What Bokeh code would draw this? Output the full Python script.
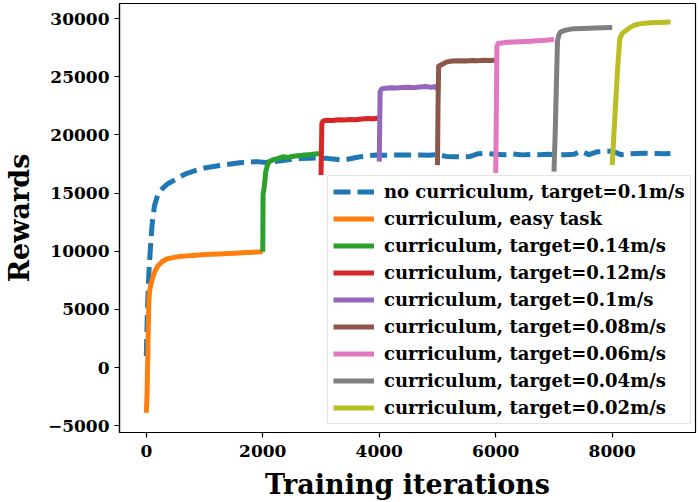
from bokeh.plotting import figure
from bokeh.models import Legend, LegendItem, FixedTicker
from bokeh.embed import file_html
from bokeh.resources import INLINE

# ---------------- data ----------------
iters_none = [0, 20, 45, 70, 100, 140, 200, 280, 370, 460, 580, 700, 850, 1000, 1150, 1300,
              1450, 1600, 1750, 1900, 2050, 2200, 2350, 2500, 2650, 2800, 2950, 3100, 3250,
              3380, 3500, 3650, 3800, 3950, 4100, 4300, 4500, 4700, 4850, 5000, 5150, 5300,
              5450, 5550, 5700, 5850, 6000, 6150, 6300, 6450, 6600, 6750, 6900, 7050, 7200,
              7350, 7460, 7600, 7750, 7900, 8000, 8150, 8300, 8450, 8600, 8750, 8900, 9000]
rewards_none = [1000, 5000, 8200, 10200, 12300, 13900, 14900, 15400, 15800, 16050, 16400, 16700,
                16950, 17150, 17280, 17400, 17500, 17600, 17650, 17700, 17620, 17700, 17800,
                17900, 17960, 18000, 18020, 17980, 17900, 17830, 17950, 18100, 18200, 18270,
                18250, 18280, 18260, 18270, 18250, 18300, 18150, 18120, 18100, 18130, 18380,
                18400, 18330, 18300, 18350, 18280, 18320, 18300, 18330, 18280, 18300, 18330,
                18600, 18300, 18550, 18580, 18600, 18300, 18380, 18400, 18420, 18400, 18380, 18400]

iters_easy = [0, 8, 15, 22, 28, 35, 45, 60, 86, 120, 160, 210, 276, 350, 430, 505, 600, 700,
              800, 965, 1100, 1250, 1400, 1540, 1700, 1850, 2000]
rewards_easy = [-3900, -3000, -2000, 0, 1540, 3500, 5830, 6700, 7260, 7900, 8400, 8800, 9120,
                9330, 9430, 9490, 9560, 9600, 9640, 9690, 9730, 9760, 9800, 9830, 9880, 9920, 9970]

iters_014 = [2000, 2005, 2020, 2035, 2050, 2060, 2080, 2110, 2170, 2250, 2345, 2420, 2500,
             2600, 2700, 2800, 2900, 3000]
rewards_014 = [9950, 14900, 15300, 16000, 16800, 17000, 17400, 17700, 17840, 17950, 18120,
               18050, 18150, 18200, 18260, 18300, 18350, 18410]

iters_012 = [3000, 3008, 3015, 3040, 3100, 3200, 3300, 3400, 3500, 3600, 3700, 3800, 3900, 4000]
rewards_012 = [16550, 19000, 21000, 21200, 21250, 21230, 21300, 21280, 21330, 21300, 21370,
               21400, 21380, 21450]

iters_010 = [4000, 4008, 4015, 4040, 4100, 4200, 4300, 4400, 4500, 4600, 4700, 4800, 4900,
             4950, 5000]
rewards_010 = [17700, 21000, 23700, 23950, 24000, 24050, 24020, 24080, 24100, 24060, 24120,
               24150, 24080, 24150, 23950]

iters_008 = [5000, 5008, 5020, 5060, 5150, 5250, 5400, 5500, 5600, 5700, 5800, 5900, 6000]
rewards_008 = [17400, 22000, 25900, 26000, 26250, 26350, 26380, 26350, 26400, 26380, 26420,
               26400, 26420]

iters_006 = [6000, 6008, 6020, 6040, 6100, 6200, 6300, 6400, 6500, 6600, 6700, 6800, 6900, 7000]
rewards_006 = [16720, 21000, 27600, 27850, 27900, 27950, 27980, 28000, 28030, 28050, 28080,
               28100, 28150, 28190]

iters_004 = [7000, 7020, 7040, 7060, 7085, 7116, 7200, 7345, 7500, 7700, 7850, 8000]
rewards_004 = [16840, 20000, 24000, 28100, 28600, 28850, 29000, 29130, 29150, 29180, 29200, 29220]

iters_002 = [8000, 8045, 8090, 8130, 8170, 8270, 8370, 8490, 8650, 8800, 9000]
rewards_002 = [17400, 21500, 25500, 28270, 28700, 29100, 29420, 29560, 29630, 29660, 29700]

series_labels = [
    "no curriculum, target=0.1m/s",
    "curriculum, easy task",
    "curriculum, target=0.14m/s",
    "curriculum, target=0.12m/s",
    "curriculum, target=0.1m/s",
    "curriculum, target=0.08m/s",
    "curriculum, target=0.06m/s",
    "curriculum, target=0.04m/s",
    "curriculum, target=0.02m/s",
]
series_colors = ["#1f77b4", "#ff7f0e", "#2ca02c", "#d62728", "#9467bd",
                 "#8c564b", "#e377c2", "#7f7f7f", "#bcbd22"]

xtick_values = [0, 2000, 4000, 6000, 8000]
ytick_values = [-5000, 0, 5000, 10000, 15000, 20000, 25000, 30000]
ytick_labels = ["\u22125000", "0", "5000", "10000", "15000", "20000", "25000", "30000"]

x_label = "Training iterations"
y_label = "Rewards"

# ---------------- figure ----------------
FONT = "DejaVu Serif"

p = figure(width=699, height=502, x_range=(-460, 9430), y_range=(-5580, 31290),
           output_backend="svg", toolbar_location=None,
           min_border_left=117, min_border_right=4, min_border_top=3, min_border_bottom=69)

p.grid.visible = False
p.outline_line_color = "black"
p.outline_line_width = 1.2
p.background_fill_color = "white"
p.border_fill_color = "white"

for ax in (p.xaxis[0], p.yaxis[0]):
    ax.axis_line_color = "black"
    ax.axis_line_width = 1.2
    ax.major_tick_out = 5
    ax.major_tick_in = 0
    ax.major_tick_line_width = 1.2
    ax.minor_tick_line_color = None
    ax.major_label_text_font = FONT
    ax.major_label_text_font_style = "bold"
    ax.major_label_text_font_size = "17px"
    ax.major_label_text_color = "black"
    ax.axis_label_text_font = FONT
    ax.axis_label_text_font_style = "bold"
    ax.axis_label_text_font_size = "27px"
    ax.axis_label_text_color = "black"

p.xaxis.ticker = FixedTicker(ticks=xtick_values)
p.yaxis.ticker = FixedTicker(ticks=ytick_values)
p.yaxis.major_label_overrides = {v: l for v, l in zip(ytick_values, ytick_labels)}
p.xaxis.axis_label = x_label
p.yaxis.axis_label = y_label
p.xaxis.major_label_standoff = 7
p.yaxis.major_label_standoff = 5
p.xaxis.axis_label_standoff = 9
p.yaxis.axis_label_standoff = 10

xs = [iters_none, iters_easy, iters_014, iters_012, iters_010, iters_008, iters_006, iters_004, iters_002]
ys = [rewards_none, rewards_easy, rewards_014, rewards_012, rewards_010, rewards_008, rewards_006,
      rewards_004, rewards_002]

items = []
for i, (x, y) in enumerate(zip(xs, ys)):
    if i == 0:
        r = p.line(x, y, line_color=series_colors[i], line_width=5, line_dash="17 7",
                   line_join="round")
    else:
        r = p.line(x, y, line_color=series_colors[i], line_width=5, line_join="round")
    items.append(LegendItem(label=series_labels[i], renderers=[r]))

legend = Legend(items=items, location=(208, 8))
legend.label_text_font = FONT
legend.label_text_font_style = "bold"
legend.label_text_font_size = "18px"
legend.label_text_color = "black"
legend.glyph_width = 41
legend.glyph_height = 21
legend.label_height = 21
legend.label_standoff = 10
legend.spacing = 6
legend.padding = 5
legend.margin = 0
legend.border_line_color = "#cccccc"
legend.border_line_width = 1
legend.background_fill_color = "white"
legend.background_fill_alpha = 0.8
p.add_layout(legend)

open("out.html", "w").write(file_html(p, INLINE))
